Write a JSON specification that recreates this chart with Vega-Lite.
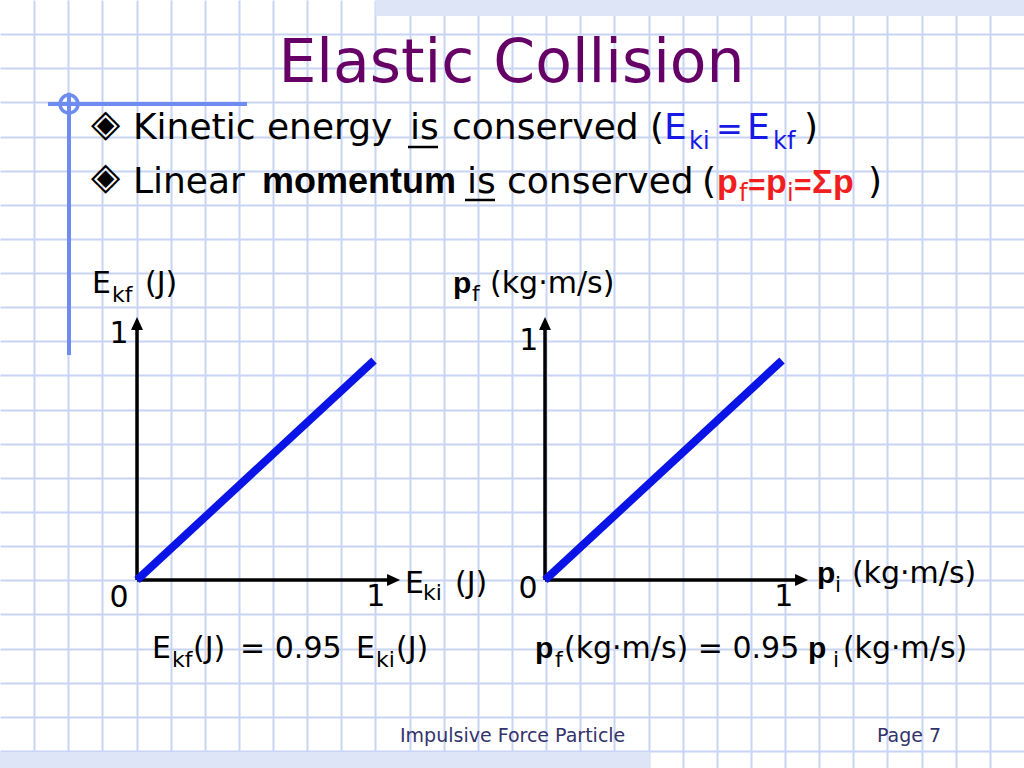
{
  "$schema": "https://vega.github.io/schema/vega-lite/v6.json",
  "width": 1024,
  "height": 768,
  "padding": 0,
  "autosize": {"type": "fit", "contains": "padding"},
  "background": "#ffffff",
  "config": {"view": {"stroke": null}, "text": {"font": "DejaVu Sans", "fontSize": 36, "align": "left", "baseline": "alphabetic", "color": "#000000"}},
  "datasets": {
    "energy": [{"Eki": 0, "Ekf": 0}, {"Eki": 1, "Ekf": 0.95}],
    "momentum": [{"pi": 0, "pf": 0}, {"pi": 1, "pf": 0.95}]
  },
  "resolve": {"scale": {"x": "independent", "y": "independent"}},
  "layer": [
    {
      "data": {"values": [{}]},
      "layer": [
        {"mark": {"type": "rect", "color": "#dde5f7"},
         "encoding": {
           "x": {"datum": 11, "type": "quantitative", "scale": {"domain": [0, 30], "nice": false, "zero": false},
                 "axis": {"values": [1,2,3,4,5,6,7,8,9,10,11,12,13,14,15,16,17,18,19,20,21,22,23,24,25,26,27,28,29], "tickCount": 100, "grid": true, "gridColor": "#c8d4f4", "gridWidth": 2, "gridOpacity": 1, "domain": false, "ticks": false, "labels": false, "title": null}},
           "x2": {"datum": 30},
           "y": {"datum": 0, "type": "quantitative", "scale": {"domain": [0, 22.5], "nice": false, "zero": false, "reverse": true},
                 "axis": {"values": [1,2,3,4,5,6,7,8,9,10,11,12,13,14,15,16,17,18,19,20,21,22], "tickCount": 100, "grid": true, "gridColor": "#c8d4f4", "gridWidth": 2, "gridOpacity": 1, "domain": false, "ticks": false, "labels": false, "title": null}},
           "y2": {"datum": 0.47}
         }},
        {"mark": {"type": "rect", "color": "#dde5f7"},
         "encoding": {"x": {"datum": 0, "type": "quantitative"}, "x2": {"datum": 19.04}, "y": {"datum": 22.03, "type": "quantitative"}, "y2": {"datum": 22.5}}},
        {"mark": {"type": "rule", "color": "#6e8cf0", "strokeWidth": 4},
         "encoding": {"x": {"datum": 1.406, "type": "quantitative"}, "x2": {"datum": 7.236}, "y": {"datum": 3.047, "type": "quantitative"}}},
        {"mark": {"type": "rule", "color": "#6e8cf0", "strokeWidth": 4},
         "encoding": {"x": {"datum": 2.021, "type": "quantitative"}, "y": {"datum": 2.72, "type": "quantitative"}, "y2": {"datum": 10.4}}},
        {"mark": {"type": "point", "filled": false, "color": "#6e8cf0", "strokeWidth": 3.5, "size": 324, "opacity": 1},
         "encoding": {"x": {"datum": 2.021, "type": "quantitative"}, "y": {"datum": 3.047, "type": "quantitative"}}},

        {"mark": {"type": "text", "text": "Elastic Collision", "align": "center", "fontSize": 60, "color": "#660066"},
         "encoding": {"x": {"datum": 14.985, "type": "quantitative"}, "y": {"datum": 2.402, "type": "quantitative"}}},

        {"mark": {"type": "text", "text": "◈", "fontSize": 38, "baseline": "middle"},
         "encoding": {"x": {"datum": 2.665, "type": "quantitative"}, "y": {"datum": 3.662, "type": "quantitative"}}},
        {"mark": {"type": "text", "text": "Kinetic energy"},
         "encoding": {"x": {"datum": 3.896, "type": "quantitative"}, "y": {"datum": 4.072, "type": "quantitative"}}},
        {"mark": {"type": "text", "text": "is"},
         "encoding": {"x": {"datum": 12.012, "type": "quantitative"}, "y": {"datum": 4.072, "type": "quantitative"}}},
        {"mark": {"type": "rule", "color": "#000000", "strokeWidth": 2.5},
         "encoding": {"x": {"datum": 11.953, "type": "quantitative"}, "x2": {"datum": 12.832}, "y": {"datum": 4.307, "type": "quantitative"}}},
        {"mark": {"type": "text", "text": "conserved ("},
         "encoding": {"x": {"datum": 13.242, "type": "quantitative"}, "y": {"datum": 4.072, "type": "quantitative"}}},
        {"mark": {"type": "text", "text": "E", "color": "#1919e6"},
         "encoding": {"x": {"datum": 19.453, "type": "quantitative"}, "y": {"datum": 4.072, "type": "quantitative"}}},
        {"mark": {"type": "text", "text": "ki", "color": "#1919e6", "fontSize": 24},
         "encoding": {"x": {"datum": 20.186, "type": "quantitative"}, "y": {"datum": 4.365, "type": "quantitative"}}},
        {"mark": {"type": "text", "text": "=", "color": "#1919e6", "fontSize": 32},
         "encoding": {"x": {"datum": 20.977, "type": "quantitative"}, "y": {"datum": 4.1, "type": "quantitative"}}},
        {"mark": {"type": "text", "text": "E", "color": "#1919e6"},
         "encoding": {"x": {"datum": 21.885, "type": "quantitative"}, "y": {"datum": 4.072, "type": "quantitative"}}},
        {"mark": {"type": "text", "text": "kf", "color": "#1919e6", "fontSize": 24},
         "encoding": {"x": {"datum": 22.646, "type": "quantitative"}, "y": {"datum": 4.365, "type": "quantitative"}}},
        {"mark": {"type": "text", "text": ")"},
         "encoding": {"x": {"datum": 23.555, "type": "quantitative"}, "y": {"datum": 4.072, "type": "quantitative"}}},

        {"mark": {"type": "text", "text": "◈", "fontSize": 38, "baseline": "middle"},
         "encoding": {"x": {"datum": 2.665, "type": "quantitative"}, "y": {"datum": 5.215, "type": "quantitative"}}},
        {"mark": {"type": "text", "text": "Linear"},
         "encoding": {"x": {"datum": 3.896, "type": "quantitative"}, "y": {"datum": 5.654, "type": "quantitative"}}},
        {"mark": {"type": "text", "text": "momentum", "font": "Liberation Sans", "fontWeight": "bold"},
         "encoding": {"x": {"datum": 7.676, "type": "quantitative"}, "y": {"datum": 5.654, "type": "quantitative"}}},
        {"mark": {"type": "text", "text": "is"},
         "encoding": {"x": {"datum": 13.682, "type": "quantitative"}, "y": {"datum": 5.654, "type": "quantitative"}}},
        {"mark": {"type": "rule", "color": "#000000", "strokeWidth": 2.5},
         "encoding": {"x": {"datum": 13.623, "type": "quantitative"}, "x2": {"datum": 14.502}, "y": {"datum": 5.859, "type": "quantitative"}}},
        {"mark": {"type": "text", "text": "conserved"},
         "encoding": {"x": {"datum": 14.854, "type": "quantitative"}, "y": {"datum": 5.654, "type": "quantitative"}}},
        {"mark": {"type": "text", "text": "("},
         "encoding": {"x": {"datum": 20.566, "type": "quantitative"}, "y": {"datum": 5.654, "type": "quantitative"}}},
        {"mark": {"type": "text", "text": "p", "font": "Liberation Sans", "fontWeight": "bold", "fontSize": 34, "color": "#f01e1e"},
         "encoding": {"x": {"datum": 21.006, "type": "quantitative"}, "y": {"datum": 5.654, "type": "quantitative"}}},
        {"mark": {"type": "text", "text": "f", "fontSize": 24, "color": "#f01e1e"},
         "encoding": {"x": {"datum": 21.65, "type": "quantitative"}, "y": {"datum": 5.889, "type": "quantitative"}}},
        {"mark": {"type": "text", "text": "=", "font": "Liberation Sans", "fontWeight": "bold", "fontSize": 30, "color": "#f01e1e"},
         "encoding": {"x": {"datum": 21.914, "type": "quantitative"}, "y": {"datum": 5.7, "type": "quantitative"}}},
        {"mark": {"type": "text", "text": "p", "font": "Liberation Sans", "fontWeight": "bold", "fontSize": 34, "color": "#f01e1e"},
         "encoding": {"x": {"datum": 22.441, "type": "quantitative"}, "y": {"datum": 5.654, "type": "quantitative"}}},
        {"mark": {"type": "text", "text": "i", "fontSize": 24, "color": "#f01e1e"},
         "encoding": {"x": {"datum": 23.057, "type": "quantitative"}, "y": {"datum": 5.889, "type": "quantitative"}}},
        {"mark": {"type": "text", "text": "=", "font": "Liberation Sans", "fontWeight": "bold", "fontSize": 30, "color": "#f01e1e"},
         "encoding": {"x": {"datum": 23.262, "type": "quantitative"}, "y": {"datum": 5.7, "type": "quantitative"}}},
        {"mark": {"type": "text", "text": "Σ", "font": "Liberation Sans", "fontWeight": "bold", "fontSize": 34, "color": "#f01e1e"},
         "encoding": {"x": {"datum": 23.789, "type": "quantitative"}, "y": {"datum": 5.654, "type": "quantitative"}}},
        {"mark": {"type": "text", "text": "p", "font": "Liberation Sans", "fontWeight": "bold", "fontSize": 34, "color": "#f01e1e"},
         "encoding": {"x": {"datum": 24.404, "type": "quantitative"}, "y": {"datum": 5.654, "type": "quantitative"}}},
        {"mark": {"type": "text", "text": ")"},
         "encoding": {"x": {"datum": 25.43, "type": "quantitative"}, "y": {"datum": 5.654, "type": "quantitative"}}},

        {"mark": {"type": "text", "text": "Impulsive Force Particle", "fontSize": 19, "color": "#33336b"},
         "encoding": {"x": {"datum": 11.719, "type": "quantitative"}, "y": {"datum": 21.738, "type": "quantitative"}}},
        {"mark": {"type": "text", "text": "Page 7", "fontSize": 19, "color": "#33336b"},
         "encoding": {"x": {"datum": 25.693, "type": "quantitative"}, "y": {"datum": 21.738, "type": "quantitative"}}}
      ]
    },
    {
      "data": {"values": [{}]},
      "layer": [
        {"mark": {"type": "rule", "color": "#000000", "strokeWidth": 3.5},
         "encoding": {
           "x": {"datum": 0, "type": "quantitative", "scale": {"domain": [-0.5781, 3.7426], "nice": false, "zero": false}, "axis": null},
           "x2": {"datum": 1.09},
           "y": {"datum": 0, "type": "quantitative", "scale": {"domain": [-0.8139, 2.5108], "nice": false, "zero": false}, "axis": null}
         }},
        {"mark": {"type": "rule", "color": "#000000", "strokeWidth": 3.5},
         "encoding": {"x": {"datum": 0, "type": "quantitative"}, "y": {"datum": 0, "type": "quantitative"}, "y2": {"datum": 1.12}}},
        {"mark": {"type": "point", "shape": "M0,0L-2,-0.92L-2,0.92Z", "filled": true, "color": "#000000", "size": 169, "opacity": 1},
         "encoding": {"x": {"datum": 1.11, "type": "quantitative"}, "y": {"datum": 0, "type": "quantitative"}}},
        {"mark": {"type": "point", "shape": "M0,0L-0.92,2L0.92,2Z", "filled": true, "color": "#000000", "size": 169, "opacity": 1},
         "encoding": {"x": {"datum": 0, "type": "quantitative"}, "y": {"datum": 1.139, "type": "quantitative"}}},
        {"data": {"name": "energy"},
         "mark": {"type": "line", "color": "#0a14e6", "strokeWidth": 8},
         "encoding": {"x": {"field": "Eki", "type": "quantitative"}, "y": {"field": "Ekf", "type": "quantitative"}}},
        {"mark": {"type": "text", "text": "0", "fontSize": 30, "align": "center", "baseline": "middle"},
         "encoding": {"x": {"datum": -0.076, "type": "quantitative"}, "y": {"datum": -0.078, "type": "quantitative"}}},
        {"mark": {"type": "text", "text": "1", "fontSize": 30, "align": "center", "baseline": "middle"},
         "encoding": {"x": {"datum": 1.008, "type": "quantitative"}, "y": {"datum": -0.074, "type": "quantitative"}}},
        {"mark": {"type": "text", "text": "1", "fontSize": 30, "align": "center", "baseline": "middle"},
         "encoding": {"x": {"datum": -0.076, "type": "quantitative"}, "y": {"datum": 1.065, "type": "quantitative"}}},
        {"mark": {"type": "text", "text": "E", "fontSize": 30},
         "encoding": {"x": {"datum": -0.19, "type": "quantitative"}, "y": {"datum": 1.242, "type": "quantitative"}}},
        {"mark": {"type": "text", "text": "kf", "fontSize": 22},
         "encoding": {"x": {"datum": -0.105, "type": "quantitative"}, "y": {"datum": 1.203, "type": "quantitative"}}},
        {"mark": {"type": "text", "text": "(J)", "fontSize": 30},
         "encoding": {"x": {"datum": 0.034, "type": "quantitative"}, "y": {"datum": 1.242, "type": "quantitative"}}},
        {"mark": {"type": "text", "text": "E", "fontSize": 30},
         "encoding": {"x": {"datum": 1.131, "type": "quantitative"}, "y": {"datum": -0.056, "type": "quantitative"}}},
        {"mark": {"type": "text", "text": "ki", "fontSize": 22},
         "encoding": {"x": {"datum": 1.207, "type": "quantitative"}, "y": {"datum": -0.087, "type": "quantitative"}}},
        {"mark": {"type": "text", "text": "(J)", "fontSize": 30},
         "encoding": {"x": {"datum": 1.342, "type": "quantitative"}, "y": {"datum": -0.056, "type": "quantitative"}}},
        {"mark": {"type": "text", "text": "E", "fontSize": 30},
         "encoding": {"x": {"datum": 0.063, "type": "quantitative"}, "y": {"datum": -0.338, "type": "quantitative"}}},
        {"mark": {"type": "text", "text": "kf", "fontSize": 22},
         "encoding": {"x": {"datum": 0.148, "type": "quantitative"}, "y": {"datum": -0.377, "type": "quantitative"}}},
        {"mark": {"type": "text", "text": "(J)", "fontSize": 30},
         "encoding": {"x": {"datum": 0.236, "type": "quantitative"}, "y": {"datum": -0.338, "type": "quantitative"}}},
        {"mark": {"type": "text", "text": "= 0.95", "fontSize": 30},
         "encoding": {"x": {"datum": 0.435, "type": "quantitative"}, "y": {"datum": -0.338, "type": "quantitative"}}},
        {"mark": {"type": "text", "text": "E", "fontSize": 30},
         "encoding": {"x": {"datum": 0.924, "type": "quantitative"}, "y": {"datum": -0.338, "type": "quantitative"}}},
        {"mark": {"type": "text", "text": "ki", "fontSize": 22},
         "encoding": {"x": {"datum": 1.008, "type": "quantitative"}, "y": {"datum": -0.377, "type": "quantitative"}}},
        {"mark": {"type": "text", "text": "(J)", "fontSize": 30},
         "encoding": {"x": {"datum": 1.093, "type": "quantitative"}, "y": {"datum": -0.338, "type": "quantitative"}}}
      ]
    },
    {
      "data": {"values": [{}]},
      "layer": [
        {"mark": {"type": "rule", "color": "#000000", "strokeWidth": 3.5},
         "encoding": {
           "x": {"datum": 0, "type": "quantitative", "scale": {"domain": [-2.2996, 2.0211], "nice": false, "zero": false}, "axis": null},
           "x2": {"datum": 1.09},
           "y": {"datum": 0, "type": "quantitative", "scale": {"domain": [-0.8139, 2.5108], "nice": false, "zero": false}, "axis": null}
         }},
        {"mark": {"type": "rule", "color": "#000000", "strokeWidth": 3.5},
         "encoding": {"x": {"datum": 0, "type": "quantitative"}, "y": {"datum": 0, "type": "quantitative"}, "y2": {"datum": 1.12}}},
        {"mark": {"type": "point", "shape": "M0,0L-2,-0.92L-2,0.92Z", "filled": true, "color": "#000000", "size": 169, "opacity": 1},
         "encoding": {"x": {"datum": 1.11, "type": "quantitative"}, "y": {"datum": 0, "type": "quantitative"}}},
        {"mark": {"type": "point", "shape": "M0,0L-0.92,2L0.92,2Z", "filled": true, "color": "#000000", "size": 169, "opacity": 1},
         "encoding": {"x": {"datum": 0, "type": "quantitative"}, "y": {"datum": 1.139, "type": "quantitative"}}},
        {"data": {"name": "momentum"},
         "mark": {"type": "line", "color": "#0a14e6", "strokeWidth": 8},
         "encoding": {"x": {"field": "pi", "type": "quantitative"}, "y": {"field": "pf", "type": "quantitative"}}},
        {"mark": {"type": "text", "text": "0", "fontSize": 30, "align": "center", "baseline": "middle"},
         "encoding": {"x": {"datum": -0.072, "type": "quantitative"}, "y": {"datum": -0.039, "type": "quantitative"}}},
        {"mark": {"type": "text", "text": "1", "fontSize": 30, "align": "center", "baseline": "middle"},
         "encoding": {"x": {"datum": 1.008, "type": "quantitative"}, "y": {"datum": -0.074, "type": "quantitative"}}},
        {"mark": {"type": "text", "text": "1", "fontSize": 30, "align": "center", "baseline": "middle"},
         "encoding": {"x": {"datum": -0.068, "type": "quantitative"}, "y": {"datum": 1.035, "type": "quantitative"}}},
        {"mark": {"type": "text", "text": "p", "fontSize": 30, "font": "Liberation Sans", "fontWeight": "bold"},
         "encoding": {"x": {"datum": -0.388, "type": "quantitative"}, "y": {"datum": 1.242, "type": "quantitative"}}},
        {"mark": {"type": "text", "text": "f", "fontSize": 22},
         "encoding": {"x": {"datum": -0.308, "type": "quantitative"}, "y": {"datum": 1.208, "type": "quantitative"}}},
        {"mark": {"type": "text", "text": "(kg·m/s)", "fontSize": 30},
         "encoding": {"x": {"datum": -0.232, "type": "quantitative"}, "y": {"datum": 1.242, "type": "quantitative"}}},
        {"mark": {"type": "text", "text": "p", "fontSize": 30, "font": "Liberation Sans", "fontWeight": "bold"},
         "encoding": {"x": {"datum": 1.148, "type": "quantitative"}, "y": {"datum": -0.013, "type": "quantitative"}}},
        {"mark": {"type": "text", "text": "i", "fontSize": 22},
         "encoding": {"x": {"datum": 1.224, "type": "quantitative"}, "y": {"datum": -0.052, "type": "quantitative"}}},
        {"mark": {"type": "text", "text": "(kg·m/s)", "fontSize": 30},
         "encoding": {"x": {"datum": 1.295, "type": "quantitative"}, "y": {"datum": -0.013, "type": "quantitative"}}},
        {"mark": {"type": "text", "text": "p", "fontSize": 30, "font": "Liberation Sans", "fontWeight": "bold"},
         "encoding": {"x": {"datum": -0.042, "type": "quantitative"}, "y": {"datum": -0.338, "type": "quantitative"}}},
        {"mark": {"type": "text", "text": "f", "fontSize": 22},
         "encoding": {"x": {"datum": 0.042, "type": "quantitative"}, "y": {"datum": -0.377, "type": "quantitative"}}},
        {"mark": {"type": "text", "text": "(kg·m/s) = 0.95", "fontSize": 30},
         "encoding": {"x": {"datum": 0.08, "type": "quantitative"}, "y": {"datum": -0.338, "type": "quantitative"}}},
        {"mark": {"type": "text", "text": "p", "fontSize": 30, "font": "Liberation Sans", "fontWeight": "bold"},
         "encoding": {"x": {"datum": 1.11, "type": "quantitative"}, "y": {"datum": -0.338, "type": "quantitative"}}},
        {"mark": {"type": "text", "text": "i", "fontSize": 22},
         "encoding": {"x": {"datum": 1.215, "type": "quantitative"}, "y": {"datum": -0.377, "type": "quantitative"}}},
        {"mark": {"type": "text", "text": "(kg·m/s)", "fontSize": 30},
         "encoding": {"x": {"datum": 1.257, "type": "quantitative"}, "y": {"datum": -0.338, "type": "quantitative"}}}
      ]
    }
  ]
}
